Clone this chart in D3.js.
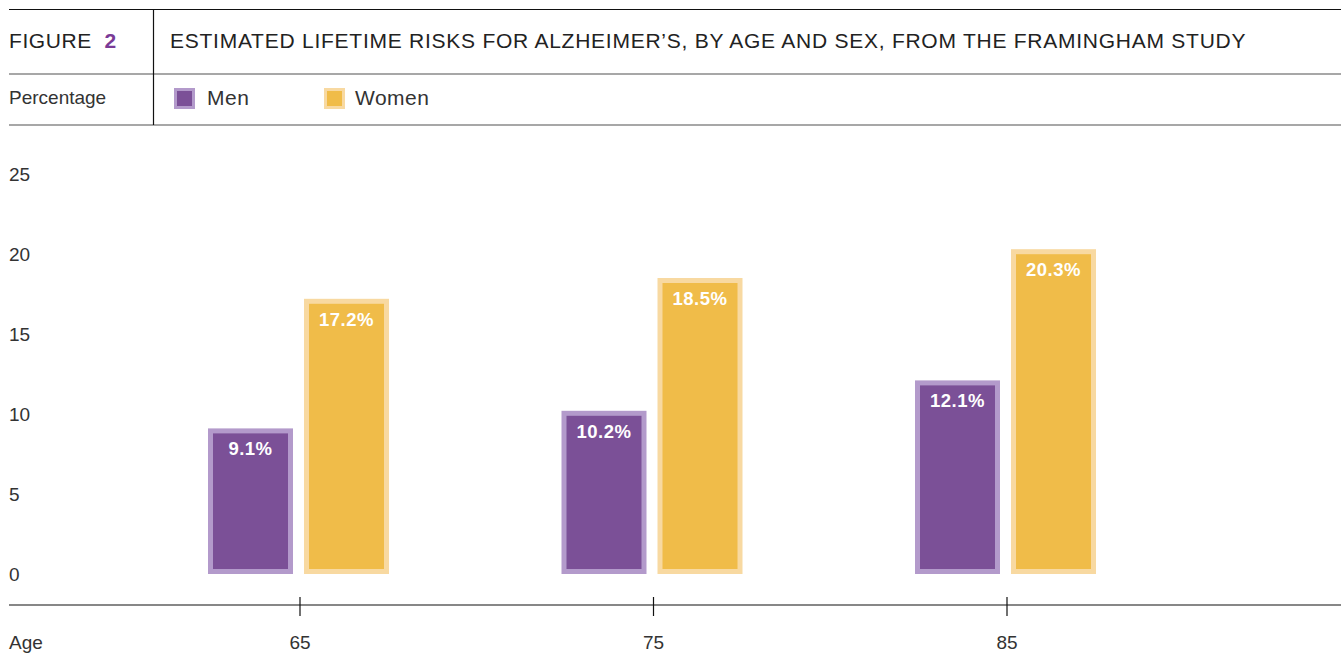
<!DOCTYPE html>
<html><head><meta charset="utf-8">
<script src="https://cdn.jsdelivr.net/npm/d3@7"></script>
<style>
body{margin:0;background:#fff;}
svg{display:block;font-family:"Liberation Sans",Arial,sans-serif;}
</style></head>
<body>
<svg id="chart" width="1341" height="653"></svg>
<script>
const ages = ["65","75","85"];
const series = ["Men","Women"];
const men = [9.1, 10.2, 12.1];
const women = [17.2, 18.5, 20.3];
const yTicks = [0,5,10,15,20,25];
const title = "ESTIMATED LIFETIME RISKS FOR ALZHEIMER’S, BY AGE AND SEX, FROM THE FRAMINGHAM STUDY";

const innerCol = {Men:"#7b5097", Women:"#f0bc49"};
const outerCol = {Men:"#b39acb", Women:"#f8d9a1"};

const svg = d3.select("#chart");

// header
svg.append("line").attr("x1",9).attr("x2",1341).attr("y1",9.5).attr("y2",9.5).attr("stroke","#111").attr("stroke-width",1.2);
svg.append("line").attr("x1",9).attr("x2",1341).attr("y1",74).attr("y2",74).attr("stroke","#8a8a8a").attr("stroke-width",1.6);
svg.append("line").attr("x1",9).attr("x2",1341).attr("y1",125).attr("y2",125).attr("stroke","#8a8a8a").attr("stroke-width",1.6);
svg.append("line").attr("x1",153.5).attr("x2",153.5).attr("y1",9).attr("y2",125).attr("stroke","#111").attr("stroke-width",1.2);

const fig = svg.append("text").attr("x",9).attr("y",48).attr("font-size",21).attr("fill","#222").attr("letter-spacing",0.6);
fig.append("tspan").text("FIGURE ");
fig.append("tspan").attr("dx",6).attr("font-weight","bold").attr("fill","#7a3a96").text("2");
svg.append("text").attr("x",170).attr("y",48).attr("font-size",21).attr("fill","#222")
  .attr("letter-spacing",0.75).text(title);
svg.append("text").attr("x",9).attr("y",104).attr("font-size",19).attr("fill","#333").text("Percentage");

const legX = {Men:174, Women:324};
const legTX = {Men:207, Women:355};
series.forEach(s=>{
  svg.append("rect").attr("x",legX[s]).attr("y",88).attr("width",21).attr("height",21).attr("fill",outerCol[s]);
  svg.append("rect").attr("x",legX[s]+3).attr("y",91).attr("width",15).attr("height",15).attr("fill",innerCol[s]);
  svg.append("text").attr("x",legTX[s]).attr("y",105).attr("font-size",21).attr("fill","#333").attr("letter-spacing",0.5).text(s);
});

// scales
const y = d3.scaleLinear().domain([0,25]).range([574,174]);
const x = d3.scalePoint().domain(ages).range([300,1007]);
const xs = d3.scaleBand().domain(series).range([-92,89]).paddingInner(11/96);

// y labels
svg.append("g").selectAll("text").data(yTicks).join("text")
  .attr("x",9).attr("y",d=>y(d)).attr("dy","0.35em")
  .attr("font-size",19).attr("fill","#333").text(d=>d);

// x axis
const gx = svg.append("g").attr("transform","translate(0,605)");
gx.append("line").attr("x1",9).attr("x2",1341).attr("stroke","#111").attr("stroke-width",1.2);
gx.selectAll(".tk").data(ages).join("line").attr("class","tk")
  .attr("x1",d=>x(d)).attr("x2",d=>x(d)).attr("y1",-8).attr("y2",11).attr("stroke","#111").attr("stroke-width",1.2);
svg.selectAll(".xl").data(ages).join("text").attr("class","xl")
  .attr("x",d=>x(d)).attr("y",649).attr("text-anchor","middle").attr("font-size",19).attr("fill","#333").text(d=>d);
svg.append("text").attr("x",9).attr("y",649).attr("font-size",19).attr("fill","#333").text("Age");

// bars
const data = [];
ages.forEach((a,i)=>{
  data.push({age:a, s:"Men", v:men[i]});
  data.push({age:a, s:"Women", v:women[i]});
});
const b = 5;
const g = svg.append("g");
const bars = g.selectAll("g").data(data).join("g");
bars.append("rect")
  .attr("x",d=>x(d.age)+xs(d.s)).attr("y",d=>y(d.v))
  .attr("width",xs.bandwidth()).attr("height",d=>y(0)-y(d.v))
  .attr("fill",d=>outerCol[d.s]);
bars.append("rect")
  .attr("x",d=>x(d.age)+xs(d.s)+b).attr("y",d=>y(d.v)+b)
  .attr("width",xs.bandwidth()-2*b).attr("height",d=>y(0)-y(d.v)-2*b)
  .attr("fill",d=>innerCol[d.s]);
bars.append("text")
  .attr("x",d=>x(d.age)+xs(d.s)+xs.bandwidth()/2).attr("y",d=>y(d.v)+27)
  .attr("text-anchor","middle").attr("font-size",18.5).attr("font-weight","bold").attr("fill","#fff")
  .attr("letter-spacing",0.5)
  .text(d=>d.v.toFixed(1)+"%");
</script>
</body></html>
